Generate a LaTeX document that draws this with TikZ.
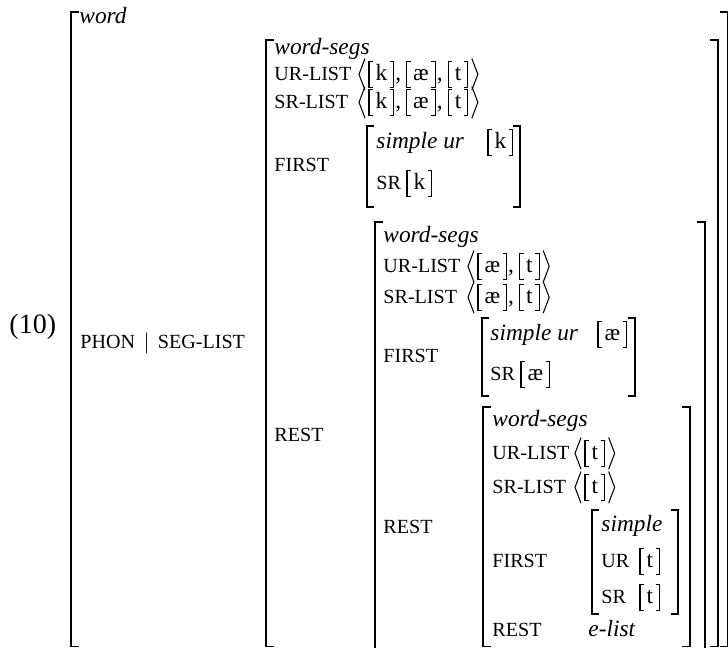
\documentclass[tikz,border=0pt]{standalone}
\usepackage{fontspec}
\setmainfont{Liberation Serif}
\usetikzlibrary{calc}
\newcommand{\featfont}{\fontsize{8.6}{10}\selectfont}
\begin{document}
\begin{tikzpicture}[x=0.4283pt,y=-0.4283pt,
  every node/.style={inner sep=0pt,anchor=base west},
  avmtype/.style={font=\itshape},
  feat/.style={font=\featfont},
  brk/.style={line width=0.45pt},
  seg/.style={inner xsep=2.6pt,inner ysep=0.8pt,text height=7.3pt,text depth=1.6pt,
    append after command={
      ($(\tikzlastnode.north west)+(4,0)$) -| (\tikzlastnode.south west) -- +(4,0)
      ($(\tikzlastnode.north east)+(-4,0)$) -| (\tikzlastnode.south east) -- +(-4,0)}}]
\useasboundingbox (0,0) rectangle (728,648);
% outer matrix
\node[font=\fontsize{12}{14}\selectfont] (exnum) at (9,334) {(10)};
\draw[brk] (79,12) -- (71,12) -- (71,646.5) -- (79,646.5);
\draw[brk] (720,12) -- (727.2,12) -- (727.2,646.5) -- (720,646.5);
\node[avmtype] (word) at (79,24) {word};
\node[feat] (phon) at (80,349) {PHON\hspace{3.6pt}$|$\hspace{3.6pt}SEG-LIST};
% level 2
\draw[brk] (274,40) -- (266,40) -- (266,646.5) -- (274,646.5);
\draw[brk] (710,40) -- (718,40) -- (718,646.5) -- (710,646.5);
\node[avmtype] (ws2) at (274,55) {word-segs};
\node[feat] (ur2) at (274,81) {UR-LIST};
\draw[brk] node[seg] (ur2k) at (369,81) {k};
\node (ur2c1) at ($(ur2k.base east)+(1,0)$) {,};
\draw[brk] node[seg] (ur2ae) at ($(ur2c1.base east)+(5,0)$) {æ};
\node (ur2c2) at ($(ur2ae.base east)+(1,0)$) {,};
\draw[brk] node[seg] (ur2t) at ($(ur2c2.base east)+(5,0)$) {t};
\draw[brk] ($(ur2k.north west)+(-4,-3)$) -- ($(ur2k.west)+(-10,0)$) -- ($(ur2k.south west)+(-4,3)$);
\draw[brk] ($(ur2t.north east)+(4,-3)$) -- ($(ur2t.east)+(10,0)$) -- ($(ur2t.south east)+(4,3)$);
\node[feat] (sr2) at (274,109) {SR-LIST};
\draw[brk] node[seg] (sr2k) at (369,109) {k};
\node (sr2c1) at ($(sr2k.base east)+(1,0)$) {,};
\draw[brk] node[seg] (sr2ae) at ($(sr2c1.base east)+(5,0)$) {æ};
\node (sr2c2) at ($(sr2ae.base east)+(1,0)$) {,};
\draw[brk] node[seg] (sr2t) at ($(sr2c2.base east)+(5,0)$) {t};
\draw[brk] ($(sr2k.north west)+(-4,-3)$) -- ($(sr2k.west)+(-10,0)$) -- ($(sr2k.south west)+(-4,3)$);
\draw[brk] ($(sr2t.north east)+(4,-3)$) -- ($(sr2t.east)+(10,0)$) -- ($(sr2t.south east)+(4,3)$);
\node[feat] (f2) at (274,172) {FIRST};
\draw[brk] (374,126) -- (367,126) -- (367,207) -- (374,207);
\draw[brk] (513,126) -- (520,126) -- (520,207) -- (513,207);
\node[avmtype] (f2type) at (376,149) {simple ur};
\draw[brk] node[seg] (f2urk) at (488,149) {k};
\node[feat] (f2sr) at (376,190) {SR};
\draw[brk] node[seg] (f2srk) at (407,190) {k};
\node[feat] (r2) at (274,442) {REST};
% level 3
\draw[brk] (383,222) -- (375,222) -- (375,650) -- (383,650);
\draw[brk] (697,222) -- (705,222) -- (705,650) -- (697,650);
\node[avmtype] (ws3) at (383,243) {word-segs};
\node[feat] (ur3) at (383,273) {UR-LIST};
\draw[brk] node[seg] (ur3ae) at (478,273) {æ};
\node (ur3c1) at ($(ur3ae.base east)+(1,0)$) {,};
\draw[brk] node[seg] (ur3t) at ($(ur3c1.base east)+(5,0)$) {t};
\draw[brk] ($(ur3ae.north west)+(-4,-3)$) -- ($(ur3ae.west)+(-10,0)$) -- ($(ur3ae.south west)+(-4,3)$);
\draw[brk] ($(ur3t.north east)+(4,-3)$) -- ($(ur3t.east)+(10,0)$) -- ($(ur3t.south east)+(4,3)$);
\node[feat] (sr3) at (383,304) {SR-LIST};
\draw[brk] node[seg] (sr3ae) at (478,304) {æ};
\node (sr3c1) at ($(sr3ae.base east)+(1,0)$) {,};
\draw[brk] node[seg] (sr3t) at ($(sr3c1.base east)+(5,0)$) {t};
\draw[brk] ($(sr3ae.north west)+(-4,-3)$) -- ($(sr3ae.west)+(-10,0)$) -- ($(sr3ae.south west)+(-4,3)$);
\draw[brk] ($(sr3t.north east)+(4,-3)$) -- ($(sr3t.east)+(10,0)$) -- ($(sr3t.south east)+(4,3)$);
\node[feat] (f3) at (383,363) {FIRST};
\draw[brk] (489,318) -- (482,318) -- (482,396) -- (489,396);
\draw[brk] (628,318) -- (635,318) -- (635,396) -- (628,396);
\node[avmtype] (f3type) at (490,341) {simple ur};
\draw[brk] node[seg] (f3urae) at (598,341) {æ};
\node[feat] (f3sr) at (490,381) {SR};
\draw[brk] node[seg] (f3srae) at (521,381) {æ};
\node[feat] (r3) at (383,534) {REST};
% level 4
\draw[brk] (491,407) -- (483,407) -- (483,646.5) -- (491,646.5);
\draw[brk] (682,407) -- (690,407) -- (690,646.5) -- (682,646.5);
\node[avmtype] (ws4) at (492,427) {word-segs};
\node[feat] (ur4) at (492,460) {UR-LIST};
\draw[brk] node[seg] (ur4t) at (585,460) {t};
\draw[brk] ($(ur4t.north west)+(-4,-3)$) -- ($(ur4t.west)+(-10,0)$) -- ($(ur4t.south west)+(-4,3)$);
\draw[brk] ($(ur4t.north east)+(4,-3)$) -- ($(ur4t.east)+(10,0)$) -- ($(ur4t.south east)+(4,3)$);
\node[feat] (sr4) at (492,494) {SR-LIST};
\draw[brk] node[seg] (sr4t) at (585,494) {t};
\draw[brk] ($(sr4t.north west)+(-4,-3)$) -- ($(sr4t.west)+(-10,0)$) -- ($(sr4t.south west)+(-4,3)$);
\draw[brk] ($(sr4t.north east)+(4,-3)$) -- ($(sr4t.east)+(10,0)$) -- ($(sr4t.south east)+(4,3)$);
\node[feat] (f4) at (492,568) {FIRST};
\draw[brk] (599,510) -- (592,510) -- (592,614) -- (599,614);
\draw[brk] (671,510) -- (678,510) -- (678,614) -- (671,614);
\node[avmtype] (f4type) at (601,532) {simple};
\node[feat] (f4ur) at (601,568) {UR};
\draw[brk] node[seg] (f4urt) at (640,568) {t};
\node[feat] (f4sr) at (601,604) {SR};
\draw[brk] node[seg] (f4srt) at (640,604) {t};
\node[feat] (r4) at (492,637) {REST};
\node[avmtype] (r4val) at (588,637) {e-list};
\end{tikzpicture}
\end{document}
